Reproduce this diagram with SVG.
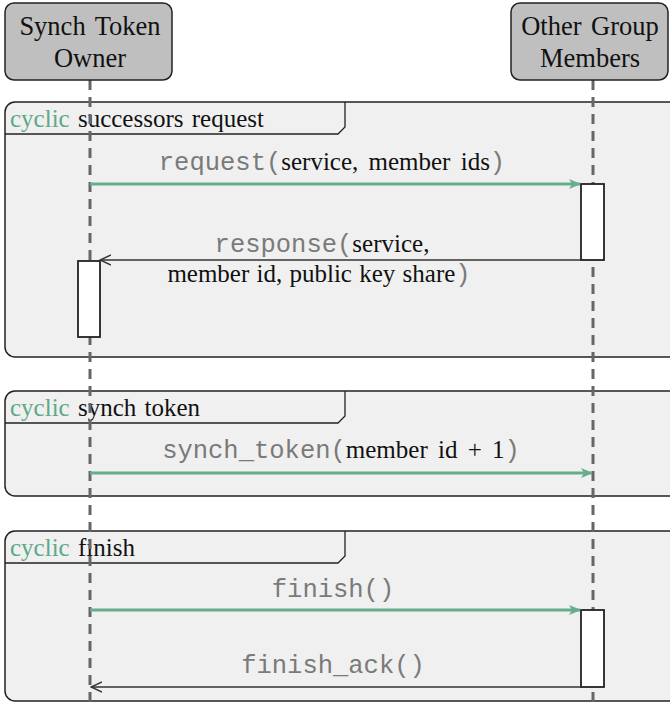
<svg xmlns="http://www.w3.org/2000/svg" width="670" height="708" viewBox="0 0 670 708">
  <style>
    .serif { font-family: "Liberation Serif", "Times New Roman", serif; font-size: 25px; fill: #111; }
    .head { font-size: 26.5px; }
    .msg { word-spacing: 4px; }
    .mono { font-family: "Liberation Mono", "Courier New", monospace; font-size: 25.5px; fill: #7a7a7a; }
    .kw { fill: #5fa888; }
    .actor { fill: #bfbfbf; stroke: #222; stroke-width: 1.5; }
    .life { stroke: #666; stroke-width: 3; stroke-dasharray: 10 7; fill: none; }
    .frame { fill: #f0f0f0; stroke: #222; stroke-width: 1.5; }
    .tab { fill: none; stroke: #222; stroke-width: 1.3; }
    .act { fill: #fff; stroke: #222; stroke-width: 1.8; }
    .call { stroke: #66ad8d; stroke-width: 3; fill: none; }
    .reply { stroke: #333; stroke-width: 1.5; fill: none; }
  </style>
  <defs>
    <marker id="stealth" viewBox="0 0 12 10" refX="11" refY="5" markerWidth="12" markerHeight="10" markerUnits="userSpaceOnUse" orient="auto">
      <path d="M0,0 L12,5 L0,10 L3,5 Z" fill="#66ad8d"/>
    </marker>
    <marker id="open" viewBox="0 0 12 12" refX="11" refY="6" markerWidth="12" markerHeight="12" markerUnits="userSpaceOnUse" orient="auto">
      <path d="M0,1 L11,6 L0,11" fill="none" stroke="#333" stroke-width="1.4"/>
    </marker>
  </defs>

  <!-- combined fragments -->
  <g id="frame-successors">
    <rect class="frame" x="5" y="102" width="675" height="255" rx="10"/>
    <path class="tab" d="M5,134 H338 L345,127 V102"/>
    <text class="serif" x="10" y="127" word-spacing="2"><tspan class="kw">cyclic</tspan> successors request</text>
  </g>
  <g id="frame-synch">
    <rect class="frame" x="5" y="391" width="675" height="105" rx="10"/>
    <path class="tab" d="M5,423 H338 L345,416 V391"/>
    <text class="serif" x="10" y="416" word-spacing="2"><tspan class="kw">cyclic</tspan> synch token</text>
  </g>
  <g id="frame-finish">
    <rect class="frame" x="5" y="531" width="675" height="170" rx="10"/>
    <path class="tab" d="M5,563 H338 L345,556 V531"/>
    <text class="serif" x="10" y="556" word-spacing="2"><tspan class="kw">cyclic</tspan> finish</text>
  </g>

  <!-- participants and lifelines -->
  <g id="owner">
    <line class="life" x1="90" y1="80" x2="90" y2="708"/>
    <rect class="actor" x="5" y="3" width="167" height="77" rx="9"/>
    <text class="serif head" x="90" y="35" text-anchor="middle" word-spacing="3">Synch Token</text>
    <text class="serif head" x="90" y="67" text-anchor="middle">Owner</text>
  </g>
  <g id="members">
    <line class="life" x1="593" y1="80" x2="593" y2="708"/>
    <rect class="actor" x="511" y="3" width="157" height="77" rx="9"/>
    <text class="serif head" x="590" y="35" text-anchor="middle" word-spacing="3">Other Group</text>
    <text class="serif head" x="590" y="67" text-anchor="middle">Members</text>
  </g>

  <!-- activation bars -->
  <g id="activations">
    <rect class="act" x="581" y="184" width="23" height="76"/>
    <rect class="act" x="78" y="261" width="22" height="76"/>
    <rect class="act" x="581" y="610" width="23" height="77"/>
  </g>

  <!-- messages -->
  <g id="connectors">
    <line class="call" x1="90" y1="184" x2="580" y2="184" marker-end="url(#stealth)"/>
    <line class="reply" x1="581" y1="260" x2="100" y2="260" marker-end="url(#open)"/>
    <line class="call" x1="90" y1="473" x2="592" y2="473" marker-end="url(#stealth)"/>
    <line class="call" x1="90" y1="610" x2="580" y2="610" marker-end="url(#stealth)"/>
    <line class="reply" x1="581" y1="687" x2="91" y2="687" marker-end="url(#open)"/>
  </g>

  <g id="labels">
    <text class="msg" x="332" y="170" text-anchor="middle"><tspan class="mono">request(</tspan><tspan class="serif">service, member ids</tspan><tspan class="mono">)</tspan></text>
    <text class="msg" x="322" y="252" text-anchor="middle"><tspan class="mono">response(</tspan><tspan class="serif">service,</tspan></text>
    <text x="319" y="282" text-anchor="middle" word-spacing="1"><tspan class="serif">member id, public key share</tspan><tspan class="mono">)</tspan></text>
    <text class="msg" x="341" y="458" text-anchor="middle"><tspan class="mono">synch_token(</tspan><tspan class="serif">member id + 1</tspan><tspan class="mono">)</tspan></text>
    <text class="mono" x="333" y="597" text-anchor="middle">finish()</text>
    <text class="mono" x="333" y="673" text-anchor="middle">finish_ack()</text>
  </g>
</svg>
